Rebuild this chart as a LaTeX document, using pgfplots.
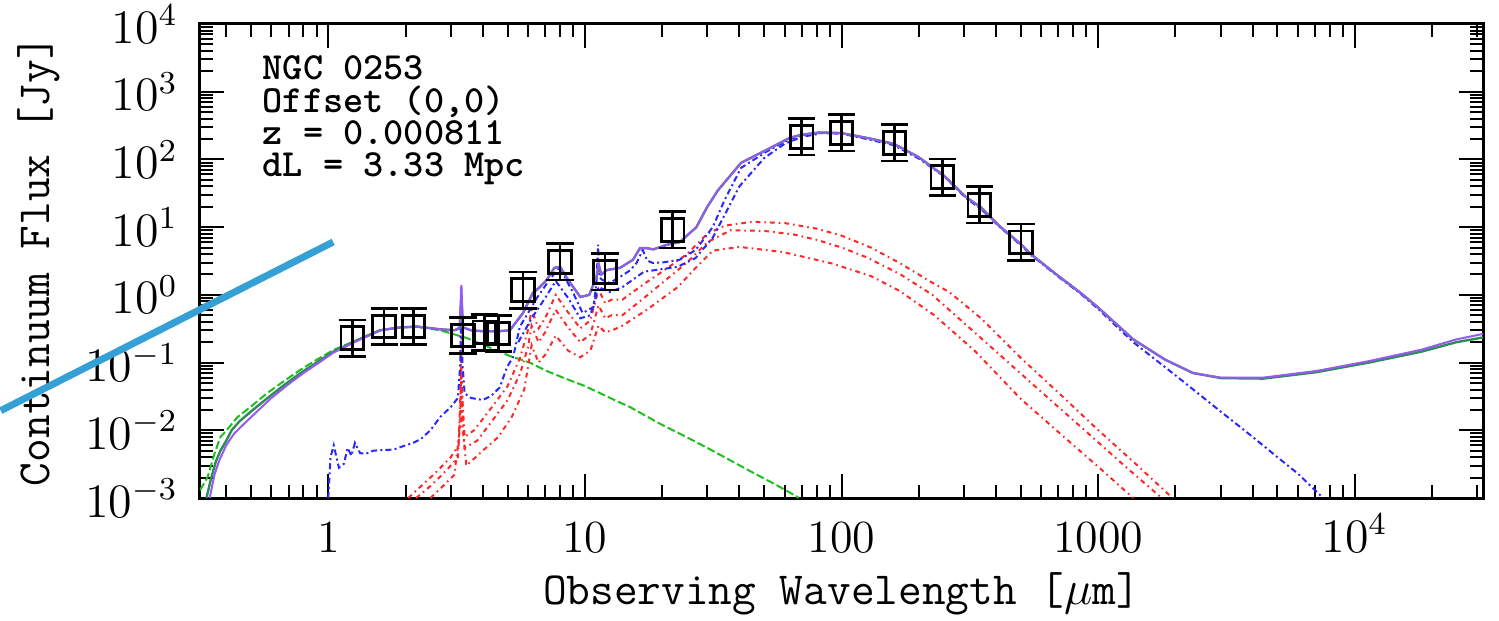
\documentclass[border=0pt]{standalone}
\usepackage{pgfplots}
\pgfplotsset{compat=1.18}
\definecolor{teal1}{RGB}{46,139,87}
\definecolor{purp}{RGB}{150,90,240}
\definecolor{grn}{RGB}{30,190,30}
\definecolor{blu}{RGB}{40,40,250}
\definecolor{rd}{RGB}{255,40,40}
\definecolor{strayline}{RGB}{52,160,214}

\begin{document}
\begin{tikzpicture}
\begin{axis}[
  at={(0,0)}, anchor=south west,
  scale only axis, width=320.75pt, height=118.5pt,
  xmode=log, ymode=log,
  xmin=0.31623, xmax=31623, ymin=1e-3, ymax=1e4,
  axis line style={line width=0.75pt},
  tick style={line width=0.5pt, black},
  major tick length=6pt, minor tick length=3.2pt,
  xtick={1,10,100,1000,10000},
  xticklabels={1,10,100,1000,$10^4$},
  minor xtick={0.4,0.5,0.6,0.7,0.8,0.9,2,3,4,5,6,7,8,9,20,30,40,50,60,70,80,90,200,300,400,500,600,700,800,900,2000,3000,4000,5000,6000,7000,8000,9000,20000,30000},
  ytick={1e-3,1e-2,1e-1,1,10,100,1000,10000},
  minor ytick={2e-3,3e-3,4e-3,5e-3,6e-3,7e-3,8e-3,9e-3,0.02,0.03,0.04,0.05,0.06,0.07,0.08,0.09,0.2,0.3,0.4,0.5,0.6,0.7,0.8,0.9,2,3,4,5,6,7,8,9,20,30,40,50,60,70,80,90,200,300,400,500,600,700,800,900,2000,3000,4000,5000,6000,7000,8000,9000},
  tick label style={font=\fontsize{11.5}{13}\selectfont},
  xticklabel style={anchor=base, yshift=-13.5pt},
  yticklabel style={xshift=-2pt},
  xlabel={Observing Wavelength [$\mu$m]},
  ylabel={Continuum Flux [Jy]},
  label style={font=\fontsize{11.5}{13}\selectfont\ttfamily},
  xlabel style={at={(axis description cs:0.5,-0.2025)}, anchor=center},
  ylabel style={at={(axis description cs:-0.1255,0.5)}, anchor=center},
]
% stellar component
\addplot[grn, line width=0.5pt, dash pattern=on 2pt off 0.8pt] coordinates {
(0.3162,1.3e-3) (0.338,2.0e-3) (0.36,4.5e-3) (0.38,8e-3) (0.397,9.5e-3) (0.443,0.0157)
(0.5,0.0225) (0.579,0.0356) (0.68,0.055) (0.778,0.078) (0.9,0.11) (1.046,0.153)
(1.3,0.216) (1.59,0.30) (1.9,0.33) (2.22,0.336) (2.73,0.30) (3.47,0.23) (4.2,0.17)
(5.1,0.125) (6.1,0.10) (7.1,0.075) (8.5,0.057) (10,0.045) (13.3,0.027) (15,0.022)
(20,0.012) (24,0.0085) (30,0.0055) (44,0.0025) (55,0.0016) (67,1.05e-3) (68,1e-3)
};
% dust components
\addplot[rd, line width=0.5pt, dash pattern=on 1.2pt off 1pt on 0.4pt off 1pt] coordinates {
(2.05,1.0e-3) (2.3,1.5e-3) (2.6,2.3e-3) (3.0,4e-3) (3.22,6e-3) (3.27,0.03) (3.3,0.3)
(3.33,0.03) (3.4,8e-3) (3.7,1.0e-2) (4.3,0.021) (5.0,0.045) (5.6,0.12) (6.0,0.3)
(6.2,0.6) (6.6,0.32) (7.0,0.45) (7.7,1.0) (8.6,0.55) (9.6,0.32) (10.5,0.42) (11.3,1.2)
(12.0,0.75) (12.7,0.85) (14,0.85) (17,1.45) (20,2.2) (25,4.0) (30,8.0) (35,10.5)
(45,12) (60,11.5) (80,9.5) (100,7.5) (130,5) (170,2.9) (220,1.6) (263,1.1) (350,0.45)
(500,0.117) (700,0.036) (1000,0.0101) (1400,3.2e-3) (1950,1e-3)
};
\addplot[rd, line width=0.5pt, dash pattern=on 1.2pt off 1pt on 0.4pt off 1pt] coordinates {
(2.2,1e-3) (2.5,1.5e-3) (2.9,2.6e-3) (3.2,4e-3) (3.27,0.02) (3.3,0.15) (3.33,0.02)
(3.4,5.5e-3) (3.8,7e-3) (4.3,0.013) (5.0,0.028) (5.6,0.07) (6.0,0.17) (6.2,0.35)
(6.6,0.2) (7.0,0.28) (7.7,0.6) (8.6,0.33) (9.6,0.2) (10.5,0.26) (11.3,0.7) (12,0.45)
(12.7,0.5) (14,0.5) (17,0.9) (20,1.5) (25,3.0) (30,6.0) (37,9) (50,8.8) (65,7.8)
(80,6.5) (100,5) (125,3.6) (170,2.0) (226,1.0) (300,0.385) (400,0.146) (600,0.037)
(900,9.5e-3) (1300,2.75e-3) (1770,1e-3)
};
\addplot[rd, line width=0.5pt, dash pattern=on 1.2pt off 1pt on 0.4pt off 1pt] coordinates {
(2.5,1e-3) (2.8,1.5e-3) (3.1,2.2e-3) (3.27,0.012) (3.3,0.08) (3.33,0.012) (3.45,3e-3)
(4.0,5e-3) (4.6,8e-3) (5.2,0.016) (5.8,0.04) (6.2,0.18) (6.6,0.1) (7.0,0.13) (7.7,0.25)
(8.6,0.15) (9.6,0.12) (10.5,0.15) (11.3,0.35) (12.0,0.28) (12.8,0.3) (14,0.35)
(17.4,0.6) (23,1.3) (27,2.5) (31.5,4.5) (40,5.1) (59,4.3) (92,2.9) (130,1.9)
(168,1.15) (230,0.5) (330,0.15) (500,0.029) (750,7.5e-3) (1000,2.9e-3) (1370,1e-3)
};
% dust-only totals
\addplot[blu, line width=0.5pt, dash pattern=on 1.5pt off 0.8pt on 0.5pt off 0.8pt] coordinates {
(5.5,0.2) (6.2,0.45) (7.0,0.9) (7.7,1.6) (8.6,0.9) (9.6,0.45) (10.5,0.5) (11.3,1.3)
(12.5,1.1) (14,1.3) (17,2.2) (20,2.4) (23,2.6) (27,3.5) (31.5,7) (35,15) (40,40)
(50,105) (60,170) (70,215) (82,240)
};
\addplot[blu, line width=0.5pt, dash pattern=on 1.5pt off 0.8pt on 0.5pt off 0.8pt] coordinates {
(1.0,1e-3) (1.02,4e-3) (1.05,6e-3) (1.1,2.8e-3) (1.15,3.2e-3) (1.19,5.5e-3) (1.23,4.2e-3)
(1.27,6.5e-3) (1.33,4.6e-3) (1.4,4.5e-3) (1.5,5.0e-3) (1.64,5.1e-3) (1.8,5.2e-3)
(2.0,6.0e-3) (2.14,6.5e-3) (2.3,7.5e-3) (2.5,0.010) (2.73,0.0157) (3.0,0.022) (3.2,0.03)
(3.27,0.1) (3.3,1.3) (3.33,0.1) (3.4,0.035) (3.6,0.03) (4.0,0.028) (4.3,0.032)
(4.66,0.043) (4.97,0.086) (5.25,0.12) (5.58,0.34) (6.2,0.66) (6.5,0.9) (7.3,1.7)
(8.0,2.6) (8.5,1.6) (9.0,1.07) (9.8,0.54) (10.8,0.66) (11.1,1.5) (11.25,5.5) (11.4,1.8)
(11.7,1.66) (12.5,1.5) (13.7,1.84) (15.0,2.3) (15.9,2.96) (16.8,4.6) (17.5,3.2)
(18.4,2.96) (20,3.0) (23.4,3.3) (27,4.6) (31.5,10) (35,25) (40.6,75) (51,130)
(62.8,200) (70,225) (82,245) (100,240) (128,197) (160,162) (200,103) (250,57)
(305,27) (350,18.5) (411,10.3) (500,5.4) (549,3.85) (700,1.85) (855,1.04) (1000,0.62)
(1371,0.2) (2000,0.065) (3000,0.019) (4000,8e-3) (5000,4e-3) (6000,2.3e-3) (7530,1e-3)
};
% total models
\addplot[teal1, line width=0.6pt] coordinates {
(0.335,1e-3) (0.35,2e-3) (0.365,3.5e-3) (0.38,5e-3) (0.40,7e-3) (0.42,0.01) (0.45,0.0135)
(0.5,0.019) (0.58,0.03) (0.68,0.048) (0.78,0.07) (0.9,0.10) (1.046,0.145) (1.3,0.215)
(1.59,0.30) (1.9,0.33) (2.22,0.34) (2.73,0.31) (3.1,0.30) (3.25,0.32) (3.3,0.9)
(3.35,0.33) (3.6,0.30) (4.0,0.29) (4.6,0.29) (5.1,0.30) (5.74,0.54) (6.27,1.07)
(6.6,1.25) (7.1,1.66) (7.6,2.5) (8.0,2.6) (8.6,1.66) (9.6,0.93) (10.4,1.0) (11.1,1.84)
(11.3,2.6) (11.6,2.0) (12.2,2.33) (13.7,2.5) (15.4,3.3) (16.4,4.9) (17.4,4.9) (18.5,4.7)
(20.9,5.5) (23.4,6.0) (27.2,10) (30,20) (33,35) (40.6,89) (51,138) (62.8,208) (70,232)
(82,250) (100,245) (128,205) (160,170) (200,108) (250,58) (305,28) (350,19.5)
(411,10.5) (500,5.6) (549,3.95) (700,1.9) (855,1.07) (1000,0.65) (1371,0.22)
(1820,0.111) (2345,0.070) (3013,0.059) (4402,0.058) (7066,0.072) (11350,0.10)
(18200,0.145) (24900,0.2) (31623,0.235)
};
\addplot[purp, line width=0.5pt] coordinates {
(0.345,1e-3) (0.36,2.2e-3) (0.375,3.5e-3) (0.40,6e-3) (0.43,9e-3) (0.47,0.0125)
(0.52,0.018) (0.6,0.03) (0.7,0.048) (0.8,0.07) (0.92,0.1) (1.046,0.14) (1.3,0.21)
(1.6,0.3) (1.9,0.33) (2.22,0.34) (2.73,0.31) (3.1,0.30) (3.25,0.33) (3.3,1.4)
(3.35,0.33) (3.6,0.30) (4.0,0.29) (4.6,0.29) (5.1,0.30) (5.74,0.54) (6.27,1.07)
(6.6,1.25) (7.1,1.66) (7.6,2.5) (8.0,2.6) (8.6,1.66) (9.6,0.93) (10.4,1.0) (11.1,1.84)
(11.3,3.0) (11.6,2.0) (12.2,2.33) (13.7,2.5) (15.4,3.3) (16.4,4.9) (17.4,4.9) (18.5,4.7)
(20.9,5.5) (23.4,6.0) (27.2,10) (30,20) (33,35) (40.6,89) (51,138) (62.8,208) (70,232)
(82,250) (100,245) (128,205) (160,170) (200,108) (250,58) (305,28) (350,19.5)
(411,10.5) (500,5.6) (549,3.95) (700,1.9) (855,1.07) (1000,0.65) (1371,0.22)
(1820,0.111) (2345,0.070) (3013,0.06) (4402,0.06) (7066,0.075) (11350,0.105)
(18200,0.155) (24900,0.22) (31623,0.265)
};
% photometry
\addplot[black, only marks, mark=square, mark size=2.8pt, line width=0.7pt,
  error bars/.cd, y dir=both, y explicit relative,
  error mark options={rotate=90, mark size=3.4pt, line width=0.7pt},
  error bar style={line width=0.7pt}]
coordinates {
(1.24,0.23) += (0,0.85) -= (0,0.46)
(1.65,0.34) += (0,0.85) -= (0,0.46)
(2.15,0.34) += (0,0.85) -= (0,0.46)
(3.35,0.25) += (0,0.85) -= (0,0.46)
(4.05,0.28) += (0,0.85) -= (0,0.46)
(4.6,0.27) += (0,0.85) -= (0,0.46)
(5.74,1.18) += (0,0.85) -= (0,0.46)
(8.0,3.06) += (0,0.85) -= (0,0.46)
(11.97,2.18) += (0,0.85) -= (0,0.46)
(22,9.1) += (0,0.85) -= (0,0.46)
(70,215) += (0,0.85) -= (0,0.46)
(100,246) += (0,0.85) -= (0,0.46)
(161,175) += (0,0.85) -= (0,0.46)
(247,55) += (0,0.85) -= (0,0.46)
(344,21.3) += (0,0.85) -= (0,0.46)
(501,6.0) += (0,0.85) -= (0,0.46)
};
\node[anchor=north west, align=left, inner sep=0pt, xshift=15.5pt, yshift=-7.75pt,
  font=\fontsize{9.6}{8.1}\selectfont\ttfamily\bfseries] at (rel axis cs:0,1)
  {NGC 0253\\Offset (0,0)\\z = 0.000811\\dL = 3.33 Mpc};
\end{axis}
\begin{axis}[
  at={(0,0)}, anchor=south west,
  scale only axis, width=320.75pt, height=118.5pt,
  xmode=log, ymode=log,
  xmin=0.31623, xmax=31623, ymin=1e-3, ymax=1e4,
  hide axis, clip=false]
\addplot[strayline, line width=1.75pt] coordinates {(0.0529,0.0195) (1.045,6.04)};
\end{axis}
\pgfresetboundingbox
\path[use as bounding box] (-50pt,-30.75pt) rectangle (324.75pt,124.5pt);
\end{tikzpicture}
\end{document}
